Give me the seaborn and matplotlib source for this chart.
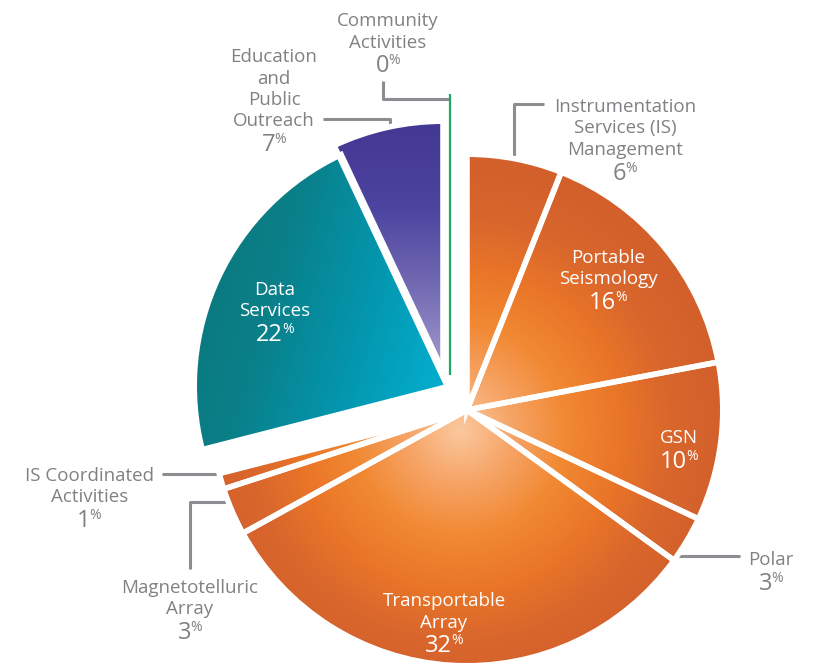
import numpy as np
import matplotlib.pyplot as plt
import seaborn as sns

sns.set_theme(style="white")
plt.rcParams["font.family"] = ["Open Sans", "DejaVu Sans"]

# budget shares, clockwise from 12 o'clock
names = [
    "Instrumentation\nServices (IS)\nManagement",
    "Portable\nSeismology",
    "GSN",
    "Polar",
    "Transportable\nArray",
    "Magnetotelluric\nArray",
    "IS Coordinated\nActivities",
    "Data\nServices",
    "Education\nand\nPublic\nOutreach",
    "Community\nActivities",
]
shares = [6, 16, 10, 3, 32, 3, 1, 22, 7, 0]
groups = ["is"] * 7 + ["data", "epo", "community"]

# pixel layout helpers (pie centre and radius in the 813x669 canvas)
CX, CY, R = 467, 410, 252


def px(x, y):
    return (x - CX) / R, (CY - y) / R


GRAY = "#808184"
LEAD = "#8c8d90"

fig = plt.figure(figsize=(8.13, 6.69), dpi=100)
ax = fig.add_axes([0, 0, 1, 1])

wedges, _ = ax.pie(
    shares, startangle=90, counterclock=False, radius=1.015,
    wedgeprops=dict(facecolor="none", edgecolor="white", linewidth=4, zorder=3),
)

# pulled-out slices on the left
centres = {7: (450, 386), 8: (443, 377), 9: (450, 375)}
for i, c in centres.items():
    wedges[i].set_center(px(*c))
wedges[9].set_radius((375 - 94) / R)
wedges[9].set_edgecolor("#1ea95e")
wedges[9].set_linewidth(1.6)

# gradient fills clipped to the wedges
x0, x1 = px(0, 0)[0], px(813, 0)[0]
y0, y1 = px(0, 669)[1], px(0, 0)[1]
X, Y = np.meshgrid(np.linspace(x0, x1, 500), np.linspace(y0, y1, 420))

orange = sns.blend_palette(["#fbc89e", "#f6a466", "#f18933", "#ea7628", "#d9662c", "#d3602b"], as_cmap=True)
teal = sns.blend_palette(["#0b777b", "#0a7f88", "#0494ab", "#03abca"], as_cmap=True)
purple = sns.blend_palette(["#433894", "#4d44a0", "#756db4", "#a49ed0"], as_cmap=True)

gx, gy = px(460, 430)
field_is = np.clip(np.hypot(X - gx, Y - gy) / 1.05, 0, 1)
dx, dy = px(200, 200)
field_data = np.clip((X - dx) / 0.95 * 0.85 + (dy - Y) * 0.25, 0, 1)
ty, by = px(0, 125)[1], px(0, 375)[1]
field_epo = np.clip((ty - Y) / (ty - by), 0, 1)

fills = {"is": (field_is, orange), "data": (field_data, teal), "epo": (field_epo, purple)}
for w, g in zip(wedges, groups):
    if g not in fills:
        continue
    field, cmap = fills[g]
    im = ax.imshow(field, cmap=cmap, vmin=0, vmax=1, origin="lower",
                   extent=(x0, x1, y0, y1), interpolation="bilinear", zorder=2)
    im.set_clip_path(w)

# labels
label_pos = [
    (625, 112, GRAY), (608, 263, "white"), (679, 443, "white"), (771, 565, GRAY),
    (444, 606, "white"), (190, 593, GRAY), (89.5, 481, GRAY), (275, 295, "white"),
    (274, 62, GRAY), (388, 26, GRAY),
]
for name, share, (lx, ly, col) in zip(names, shares, label_pos):
    lines = name.split("\n")
    for k, line in enumerate(lines):
        ax.text(*px(lx, ly + k * 21.5), line, ha="center", va="baseline",
                fontsize=13.5, color=col)
    nb = ly + (len(lines) - 1) * 21.5 + 24.5
    t = ax.text(*px(lx - 5.5, nb), str(share), ha="center", va="baseline",
                fontsize=17, color=col)
    ax.annotate("%", xy=(1, 1), xycoords=t, xytext=(-0.8, 0.5),
                textcoords="offset points", ha="left", va="top",
                fontsize=10, color=col)

# leader lines
leaders = [
    [(544, 104), (514, 104), (514, 163)],
    [(383, 81), (383, 99), (450, 99)],
    [(323, 119), (390, 119), (390, 133)],
    [(740, 556), (676, 556)],
    [(162, 474), (224, 474)],
    [(190, 569), (190, 502), (230, 502)],
]
for pts in leaders:
    xs, ys = zip(*[px(*p) for p in pts])
    ax.plot(xs, ys, color=LEAD, lw=2.2, solid_capstyle="butt", zorder=1)

ax.set_xlim(x0, x1)
ax.set_ylim(y0, y1)
ax.set_aspect("equal")
ax.axis("off")

fig.savefig("out.png", dpi=100)
